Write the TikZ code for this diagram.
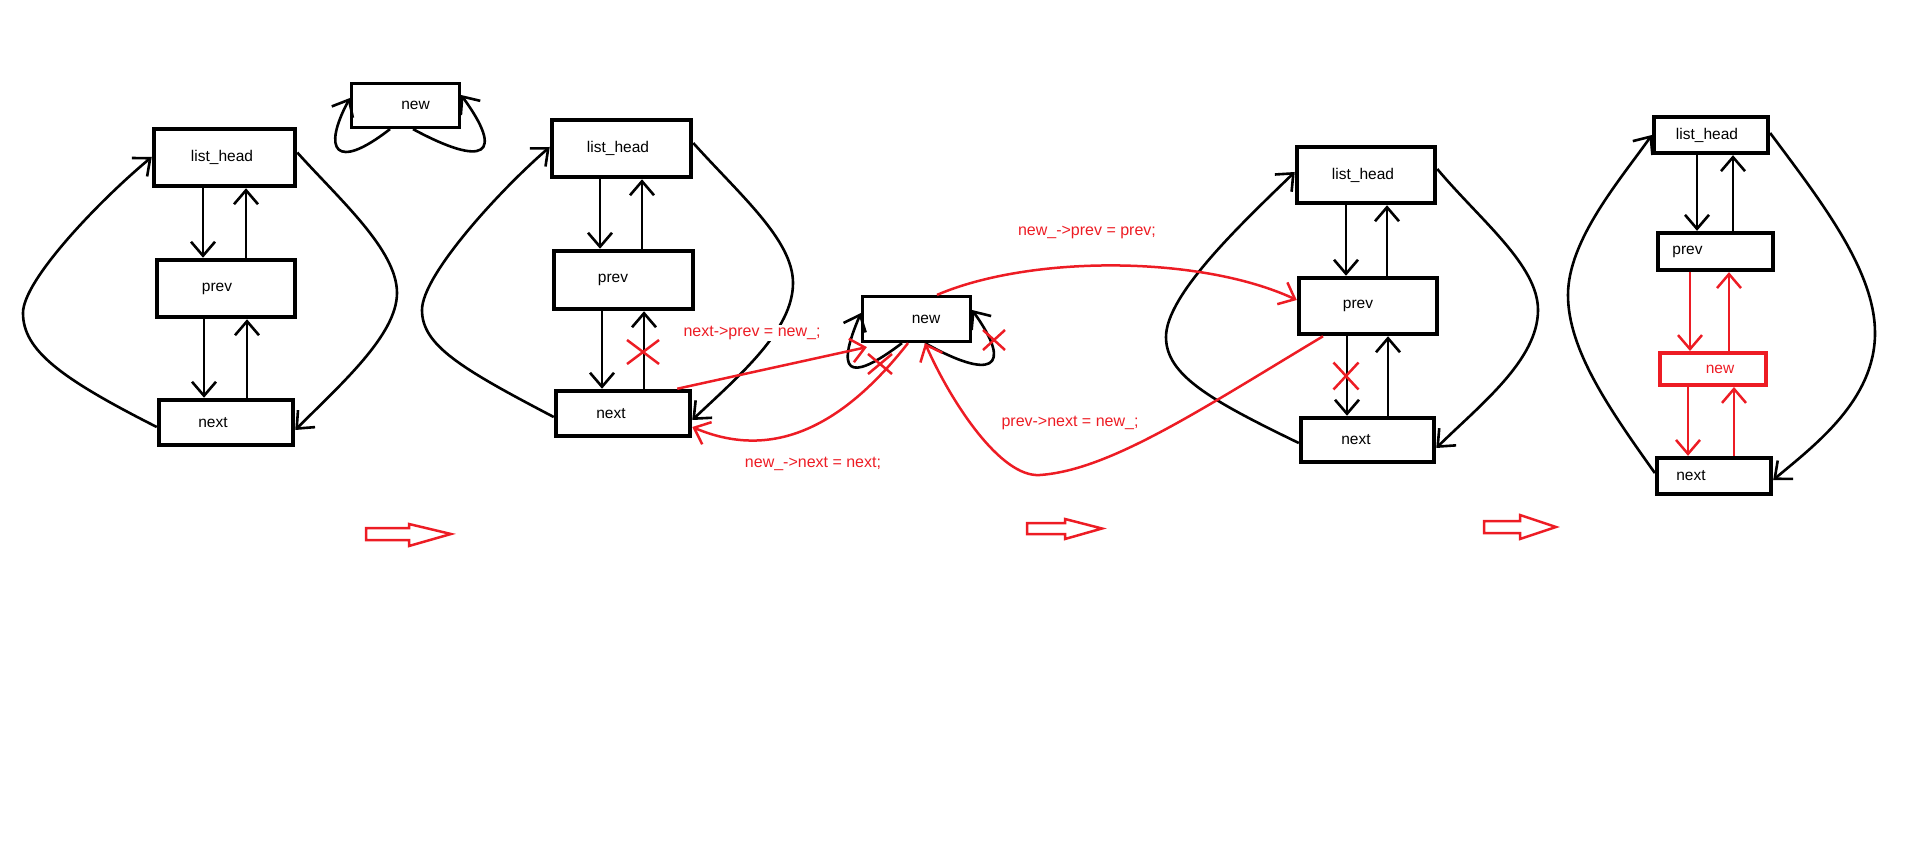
\documentclass[tikz,border=0pt]{standalone}
\usepackage{fontspec}
\setmainfont{Liberation Sans}
\usetikzlibrary{arrows.meta,shapes.misc}
\definecolor{pred}{HTML}{ED1C24}
\newcommand\txtoff[2]{\hspace*{#1}#2\hspace*{-#1}}
\begin{document}
\begin{tikzpicture}[x=1pt,y=-1pt,
  box/.style={draw,line width=4.5pt,inner sep=0pt,font=\fontsize{15.5}{18}\selectfont},
  thinbox/.style={box,line width=3.2pt},
  smallbox/.style={box,line width=4.3pt},
  redbox/.style={box,draw=pred,text=pred,line width=4pt},
  arr/.style={line width=2.6pt,-{Straight Barb[length=14pt,width=24pt]}},
  rarr/.style={arr,draw=pred,line width=2.5pt},
  lbl/.style={text=pred,inner sep=1pt,font=\fontsize{16}{19}\selectfont},
  xmark/.style={cross out,draw=pred,line width=2.5pt,inner sep=0pt,outer sep=0pt},
  blk/.style={draw=pred,line width=2.5pt,line join=miter}
]
\useasboundingbox (0,0) rectangle (1907,842);

% ---------- panel 1 ----------
\node[box,minimum width=141pt,minimum height=57pt] (h1) at (224.5,157.5) {\txtoff{-2.5pt}{list\_head}};
\node[box,minimum width=138pt,minimum height=57pt] (p1) at (226,288.5) {\txtoff{-9pt}{prev}};
\node[box,minimum width=134pt,minimum height=45pt] (n1) at (226,422.5) {\txtoff{-13pt}{next}};
\node[thinbox,minimum width=108pt,minimum height=44pt] (w1) at (405.5,105.5) {\txtoff{10pt}{new}};

\draw[arr] (h1.south -| 203,0) -- (p1.north -| 203,0);
\draw[arr] (p1.north -| 246,0) -- (h1.south -| 246,0);
\draw[arr] (p1.south -| 204,0) -- (n1.north -| 204,0);
\draw[arr] (n1.north -| 247,0) -- (p1.south -| 247,0);
\draw[arr] ([yshift=-4.5pt]n1.west) .. controls (60,378) and (23,350) .. (23,313)
  .. controls (23,280) and (100,200) .. ([yshift=0.5pt]h1.west);
\draw[arr] ([yshift=5pt]h1.east) .. controls (340,200) and (397,250) .. (397,293)
  .. controls (397,335) and (340,385) .. ([yshift=-7.5pt]n1.east);
\draw[arr] ([xshift=-15.5pt]w1.south) .. controls (335,172) and (322,150) .. ([yshift=7.5pt]w1.west);
\draw[arr] ([xshift=7.5pt]w1.south) .. controls (485,168) and (505,155) .. ([yshift=10.5pt]w1.east);

% ---------- panel 2 ----------
\node[box,minimum width=139pt,minimum height=57pt] (h2) at (621.5,148.5) {\txtoff{-3.5pt}{list\_head}};
\node[box,minimum width=139pt,minimum height=58pt] (p2) at (623.5,280) {\txtoff{-10.5pt}{prev}};
\node[box,minimum width=134pt,minimum height=45pt] (n2) at (623,413.5) {\txtoff{-12pt}{next}};
\node[thinbox,minimum width=108pt,minimum height=45pt] (w2) at (916.5,319) {\txtoff{9.5pt}{new}};

\draw[arr] (h2.south -| 600,0) -- (p2.north -| 600,0);
\draw[arr] (p2.north -| 642,0) -- (h2.south -| 642,0);
\draw[arr] (p2.south -| 602,0) -- (n2.north -| 602,0);
\draw[arr] (n2.north -| 644,0) -- (p2.south -| 644,0);
\draw[arr] ([yshift=-3.5pt]n2.west) .. controls (460,368) and (422,345) .. (422,310)
  .. controls (422,275) and (500,190) .. ([yshift=1.5pt]h2.west);
\draw[arr] ([yshift=5.5pt]h2.east) .. controls (740,195) and (793,240) .. (793,283)
  .. controls (793,330) and (740,375) .. ([yshift=-6.5pt]n2.east);
\draw[arr] ([xshift=-14.5pt]w2.south) .. controls (860,375) and (830,385) .. ([yshift=6pt]w2.west);
\draw[arr] ([xshift=8.5pt]w2.south) .. controls (990,380) and (1015,370) .. ([yshift=9pt]w2.east);

\node[lbl,fill=white] (l1) at (752,333) {next->prev = new\_;};
\node[lbl] (l2) at (813,464) {new\_->next = next;};

\draw[rarr] ([xshift=-15pt]n2.north east) -- ([xshift=6pt,yshift=-4pt]w2.south west);
\draw[rarr] ([xshift=-8.5pt]w2.south) .. controls (840,430) and (770,460) .. ([yshift=-13.5pt]n2.east);

\node[xmark,minimum width=32pt,minimum height=24pt] (x1) at (643,352) {};
\node[xmark,minimum width=24pt,minimum height=20pt] (x2) at (880,364) {};
\node[xmark,minimum width=22pt,minimum height=20pt] (x3) at (994,340) {};

% ---------- panel 3 ----------
\node[box,minimum width=138pt,minimum height=56pt] (h3) at (1366,175) {\txtoff{-3pt}{list\_head}};
\node[box,minimum width=138pt,minimum height=56pt] (p3) at (1368,306) {\txtoff{-10pt}{prev}};
\node[box,minimum width=133pt,minimum height=44pt] (n3) at (1367.5,440) {\txtoff{-11.5pt}{next}};

\draw[arr] (h3.south -| 1346,0) -- (p3.north -| 1346,0);
\draw[arr] (p3.north -| 1387,0) -- (h3.south -| 1387,0);
\draw[arr] (p3.south -| 1347,0) -- (n3.north -| 1347,0);
\draw[arr] (n3.north -| 1388,0) -- (p3.south -| 1388,0);
\draw[arr] ([yshift=-3pt]n3.west) .. controls (1210,400) and (1166,375) .. (1166,337)
  .. controls (1166,295) and (1240,225) .. ([yshift=3pt]h3.west);
\draw[arr] ([yshift=6pt]h3.east) .. controls (1480,220) and (1538,265) .. (1538,310)
  .. controls (1538,360) and (1480,405) .. ([yshift=-8pt]n3.east);
\node[xmark,minimum width=25pt,minimum height=27pt] (x4) at (1346,376) {};

\node[lbl] (l3) at (1087,232) {new\_->prev = prev;};
\node[lbl] (l4) at (1070,423) {prev->next = new\_;};
\draw[rarr] ([xshift=20.5pt]w2.north) .. controls (1030,255) and (1200,255) .. ([yshift=6pt]p3.west);
\draw[rarr] ([xshift=-45pt]p3.south) .. controls (1200,410) and (1110,470) .. (1040,475)
  .. controls (1000,478) and (950,400) .. ([xshift=8.5pt]w2.south);

% ---------- panel 4 ----------
\node[smallbox,minimum width=114pt,minimum height=36pt] (h4) at (1711,135) {\txtoff{-4pt}{list\_head}};
\node[smallbox,minimum width=115pt,minimum height=37pt] (p4) at (1715.5,251.5) {\txtoff{-28pt}{prev}};
\node[redbox,minimum width=106pt,minimum height=32pt] (w4) at (1713,369) {\txtoff{7pt}{new}};
\node[smallbox,minimum width=114pt,minimum height=36pt] (n4) at (1714,476) {\txtoff{-23pt}{next}};

\draw[arr] (h4.south -| 1697,0) -- (p4.north -| 1697,0);
\draw[arr] (p4.north -| 1733,0) -- (h4.south -| 1733,0);
\draw[rarr] (p4.south -| 1690,0) -- (w4.north -| 1690,0);
\draw[rarr] (w4.north -| 1729,0) -- (p4.south -| 1729,0);
\draw[rarr] (w4.south -| 1688,0) -- (n4.north -| 1688,0);
\draw[rarr] (n4.north -| 1734,0) -- (w4.south -| 1734,0);
\draw[arr] ([yshift=3pt]n4.west) .. controls (1610,410) and (1568,350) .. (1568,295)
  .. controls (1568,240) and (1620,180) .. (h4.west);
\draw[arr] ([yshift=2pt]h4.east) .. controls (1820,200) and (1875,270) .. (1875,333)
  .. controls (1875,400) and (1815,445) .. ([yshift=-4pt]n4.east);

% ---------- block arrows ----------
\draw[blk] (366,528) -- (409,528) -- (409,524) -- (451,534) -- (409,546) -- (409,540) -- (366,540) -- cycle;
\draw[blk] (1027,523) -- (1065,523) -- (1065,519) -- (1102,528.5) -- (1065,539) -- (1065,534) -- (1027,534) -- cycle;
\draw[blk] (1484,521) -- (1520,521) -- (1520,515) -- (1556,527) -- (1520,539) -- (1520,533) -- (1484,533) -- cycle;
\end{tikzpicture}
\end{document}
